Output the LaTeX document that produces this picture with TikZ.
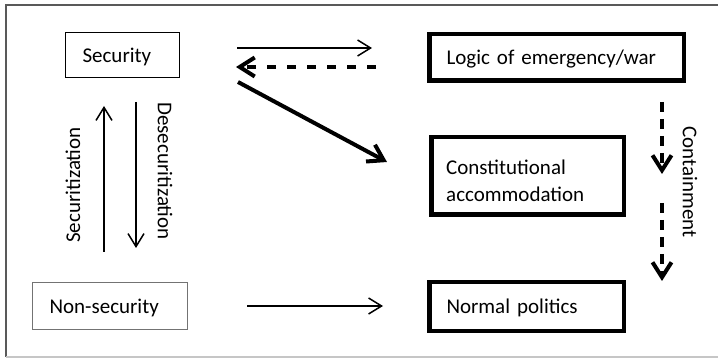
\documentclass[tikz,border=0pt]{standalone}
\usepackage{fontspec}
\setmainfont{Carlito}
\usetikzlibrary{arrows.meta}
\begin{document}
\begin{tikzpicture}[x=1pt,y=-1pt,
  every node/.style={font=\fontsize{21}{26.5}\selectfont, inner sep=0pt},
  thinbox/.style={draw=black, line width=1.3pt, align=left, text depth=0pt},
  graybox/.style={draw=gray!90!black, line width=1.3pt, align=left, text depth=0pt},
  thickbox/.style={draw=black, line width=4.5pt, align=left, text depth=0pt},
  thinarrow/.style={line width=1.5pt, -{Straight Barb[length=13pt,width=16pt,line width=1.5pt]}},
  thickarrow/.style={line width=4pt, -{Straight Barb[length=15pt,width=19pt,line width=4pt]}},
  label/.style={font=\fontsize{21}{26.5}\selectfont}
]
\useasboundingbox (0,0) rectangle (718,358);
% frame
\draw[gray!70!black, line width=1.3pt] (720,5) -- (6,5) -- (6,357);
\draw[gray!45, line width=1.3pt] (6,357) -- (720,357);

% boxes
\node[thinbox, minimum width=114pt, minimum height=45pt, text width=80pt] (sec) at (122.5,55) {Security};
\node[graybox, minimum width=155pt, minimum height=47pt, text width=121pt] (nonsec) at (110,306) {Non-security};
\node[thickbox, minimum width=254.5pt, minimum height=46.5pt, text width=220pt] (logic) at (556.5,57.5) {Logic of emergency/war};
\node[draw=black, line width=4.5pt, minimum width=192.5pt, minimum height=77.5pt] (const) at (527.5,176) {};
\node[align=left, anchor=west, xshift=17pt, yshift=-5pt] (consttext) at (const.west) {Constitutional\\accommodation};
\node[thickbox, minimum width=194.5pt, minimum height=48.5pt, text width=160pt] (normal) at (526.5,306.5) {Normal politics};

% arrow end points
\coordinate (a1s) at (237,48);  \coordinate (a1e) at (372,48);
\coordinate (a2s) at (376,67);  \coordinate (a2e) at (236,67);
\coordinate (a3s) at (238,82);  \coordinate (a3e) at (387,162);
\coordinate (a4s) at (104,252); \coordinate (a4e) at (104,106);
\coordinate (a5s) at (136,102); \coordinate (a5e) at (136,248);
\coordinate (a6s) at (247,306); \coordinate (a6e) at (383,306);
\coordinate (c1s) at (662,102); \coordinate (c1e) at (662,174);
\coordinate (c2s) at (662,203); \coordinate (c2e) at (662,281);

\draw[thinarrow] (a1s) -- (a1e);
\draw[thickarrow, dash pattern=on 9.5pt off 10.5pt] (a2s) -- (a2e);
\draw[thickarrow] (a3s) -- (a3e);
\draw[thinarrow] (a4s) -- (a4e);
\draw[thinarrow] (a5s) -- (a5e);
\draw[thinarrow] (a6s) -- (a6e);
\draw[thickarrow, dash pattern=on 10pt off 7pt] (c1s) -- (c1e);
\draw[thickarrow, dash pattern=on 10pt off 7pt] (c2s) -- (c2e);

% labels
\node[label, rotate=90] (lsec) at (73,185) {Securitization};
\node[label, rotate=-90] (ldesec) at (165,171) {Desecuritization};
\node[label, rotate=-90] (lcont) at (690,182) {Containment};
\end{tikzpicture}
\end{document}
